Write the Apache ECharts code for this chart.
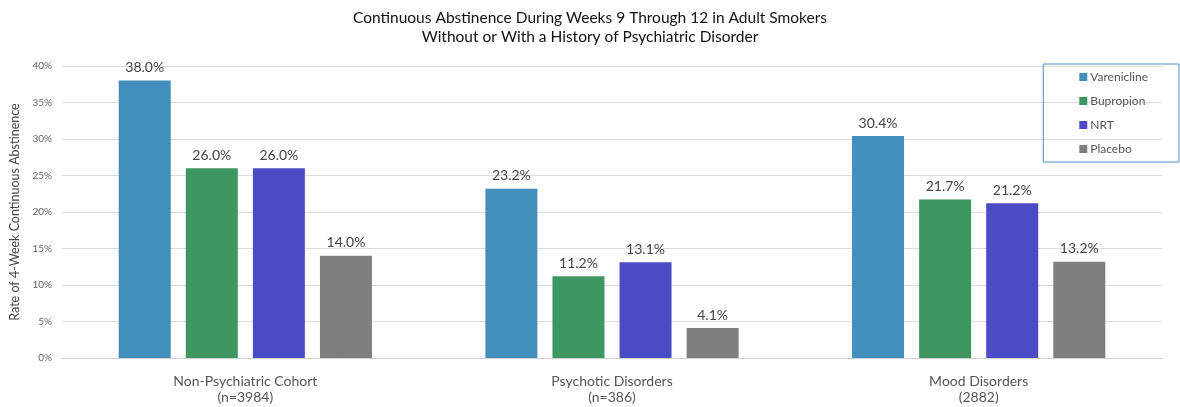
<!DOCTYPE html>
<html><head><meta charset="utf-8">
<script src="https://cdn.jsdelivr.net/npm/echarts@6/dist/echarts.min.js"></script>
<style>html,body{margin:0;padding:0;background:#fff}#c{width:1180px;height:407px}</style>
</head><body><div id="c"></div>
<script>
const categories = ['Non-Psychiatric Cohort\n(n=3984)', 'Psychotic Disorders\n(n=386)', 'Mood Disorders\n(2882)'];
const seriesNames = ['Varenicline', 'Bupropion', 'NRT', 'Placebo'];
const varenicline = [38.0, 23.2, 30.4];
const bupropion = [26.0, 11.2, 21.7];
const nrt = [26.0, 13.1, 21.2];
const placebo = [14.0, 4.1, 13.2];
const colors = ['#428fbb', '#3e9660', '#4b4bc5', '#7f7f7f'];
const values = [varenicline, bupropion, nrt, placebo];
const font = 'Lato, "DejaVu Sans", sans-serif';
const chart = echarts.init(document.getElementById('c'));
chart.setOption({
  animation: false,
  textStyle: {fontFamily: font},
  title: {
    text: 'Continuous Abstinence During Weeks 9 Through 12 in Adult Smokers\nWithout or With a History of Psychiatric Disorder',
    left: 'center', top: 3,
    textStyle: {fontFamily: font, fontSize: 15.5, fontWeight: 'normal', color: '#111', lineHeight: 19}
  },
  legend: {
    orient: 'vertical', right: 1, top: 64,
    padding: [6, 31, 6, 36],
    borderColor: '#4a90c2', borderWidth: 1,
    itemWidth: 8, itemHeight: 8, itemGap: 10,
    icon: 'rect',
    textStyle: {fontFamily: font, fontSize: 12, lineHeight: 14, color: '#555', padding: [0,0,0,-2]},
    data: seriesNames
  },
  grid: {left: 62, right: 18, top: 66, bottom: 49, containLabel: false},
  xAxis: {
    type: 'category', data: categories,
    axisTick: {show: false},
    axisLine: {lineStyle: {color: '#d0d0d0'}},
    axisLabel: {fontFamily: font, fontSize: 14, color: '#555', lineHeight: 16, margin: 15}
  },
  yAxis: {
    type: 'value', min: 0, max: 40, interval: 5,
    name: 'Rate of 4-Week Continuous Abstinence',
    nameLocation: 'middle', nameGap: 40, nameRotate: 90,
    nameTextStyle: {fontFamily: font, fontSize: 12.5, color: '#444'},
    axisLabel: {formatter: '{value}%', fontFamily: font, fontSize: 10, color: '#666', margin: 10},
    splitLine: {lineStyle: {color: '#dcdcdc'}},
    axisLine: {show: false}, axisTick: {show: false}
  },
  series: seriesNames.map((n, i) => ({
    name: n, type: 'bar', data: values[i],
    barWidth: 52, barGap: '29%',
    itemStyle: {color: colors[i]},
    label: {show: true, position: 'top', distance: 6, formatter: p => p.value.toFixed(1) + '%',
      fontFamily: font, fontSize: 14, color: '#444'}
  }))
});
</script></body></html>
